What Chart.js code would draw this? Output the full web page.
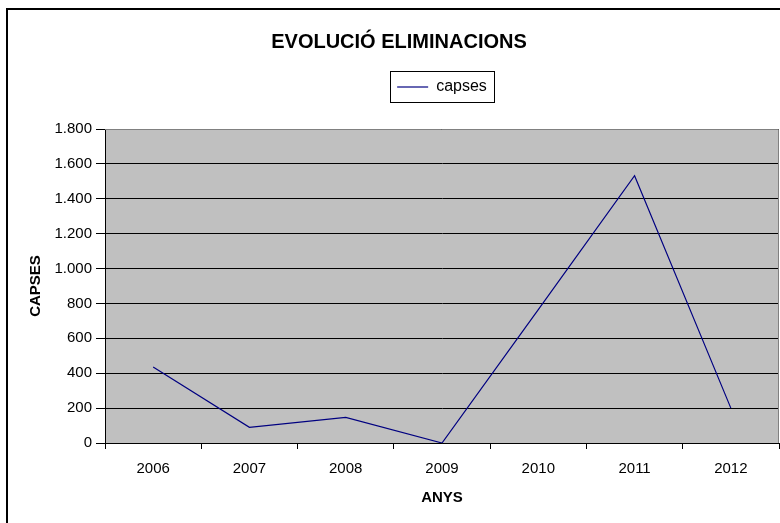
<!DOCTYPE html>
<html>
<head>
<meta charset="utf-8">
<script src="https://cdn.jsdelivr.net/npm/chart.js@4"></script>
<style>
  body { margin: 0; background: #fff; }
</style>
</head>
<body>
<canvas id="chart" width="780" height="523"></canvas>
<script>
const anys = ["2006", "2007", "2008", "2009", "2010", "2011", "2012"];
const capses = [436, 90, 147, 0, 765, 1532, 200];

const fmt = (n) => {
    if (n >= 1000) return Math.floor(n / 1000) + "." + String(n % 1000).padStart(3, "0");
    return String(n);
};

const frame = {
    id: "frame",
    beforeDraw(chart) {
        const ctx = chart.ctx;
        const a = chart.chartArea;
        ctx.save();
        ctx.fillStyle = "#fff";
        ctx.fillRect(0, 0, chart.width, chart.height);
        ctx.strokeStyle = "#000";
        ctx.lineWidth = 2;
        ctx.strokeRect(7, 9, 900, 700);
        ctx.fillStyle = "#c0c0c0";
        ctx.fillRect(a.left, a.top, a.right - a.left, a.bottom - a.top);
        ctx.restore();
    },
    afterDraw(chart) {
        const ctx = chart.ctx;
        const a = chart.chartArea;
        ctx.save();
        ctx.strokeStyle = "#808080";
        ctx.lineWidth = 1;
        ctx.beginPath();
        ctx.moveTo(a.left, a.top + 0.5);
        ctx.lineTo(a.right - 0.5, a.top + 0.5);
        ctx.lineTo(a.right - 0.5, a.bottom);
        ctx.stroke();
        // box round the legend
        const hb = chart.legend.legendHitBoxes[0];
        if (hb) {
            ctx.strokeStyle = "#000";
            const x0 = Math.round(hb.left) - 6.5;
            const x1 = Math.round(hb.left + hb.width) + 7.5;
            const y0 = Math.round(hb.top) - 7.5;
            const y1 = Math.round(hb.top + hb.height) + 7.5;
            ctx.strokeRect(x0, y0, x1 - x0, y1 - y0);
        }
        ctx.restore();
    }
};

new Chart(document.getElementById("chart"), {
    type: "line",
    data: {
        labels: anys,
        datasets: [{
            label: "capses",
            data: capses,
            borderColor: "#000080",
            backgroundColor: "#000080",
            borderWidth: 1.2,
            pointRadius: 0,
            tension: 0
        }]
    },
    options: {
        responsive: false,
        animation: false,
        layout: { padding: { top: 14, right: 1, bottom: 0, left: 19 } },
        plugins: {
            title: {
                display: true,
                text: "EVOLUCIÓ ELIMINACIONS",
                color: "#000",
                font: { family: "Liberation Sans", size: 20, weight: "bold" },
                padding: { top: 16, bottom: 15 }
            },
            legend: {
                display: true,
                fullSize: false,
                labels: {
                    usePointStyle: true,
                    pointStyle: "line",
                    pointStyleWidth: 31,
                    color: "#000",
                    font: { family: "Liberation Sans", size: 16 },
                    padding: 10
                }
            },
            tooltip: { enabled: false }
        },
        scales: {
            x: {
                offset: true,
                afterFit: (s) => { s.height = 80; },
                grid: { offset: true, drawOnChartArea: false, color: "#000", tickLength: 6 },
                border: { color: "#000" },
                ticks: { color: "#000", padding: 11, font: { family: "Liberation Sans", size: 15 } },
                title: {
                    display: true,
                    text: "ANYS",
                    color: "#000",
                    font: { family: "Liberation Sans", size: 15, weight: "bold" },
                    padding: { top: 0, bottom: 16 }
                }
            },
            // empty band between the legend and the plot
            x2: {
                type: "category",
                position: "top",
                afterFit: (s) => { s.height = 24; },
                grid: { display: false },
                border: { display: false },
                ticks: { display: false }
            },
            y: {
                min: 0,
                max: 1800,
                afterFit: (s) => { s.width = 86; },
                grid: { color: "#000", tickLength: 9 },
                border: { color: "#000" },
                ticks: {
                    stepSize: 200,
                    color: "#000",
                    padding: 4,
                    font: { family: "Liberation Sans", size: 15 },
                    callback: (v) => fmt(v)
                },
                title: {
                    display: true,
                    text: "CAPSES",
                    color: "#000",
                    font: { family: "Liberation Sans", size: 15, weight: "bold" },
                    padding: { top: 8, bottom: 0 }
                }
            }
        }
    },
    plugins: [frame]
});
</script>
</body>
</html>
